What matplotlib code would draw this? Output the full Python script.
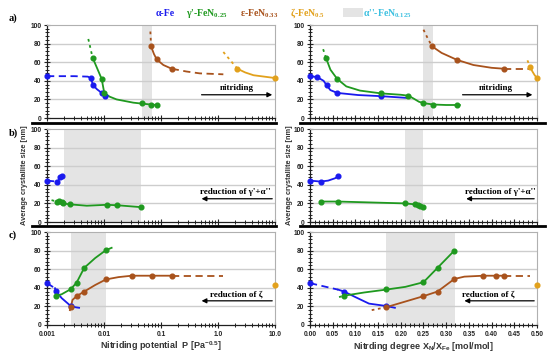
import matplotlib
matplotlib.use("Agg")
import matplotlib.pyplot as plt
from matplotlib.lines import Line2D
from matplotlib.patches import Rectangle
from matplotlib.ticker import MultipleLocator, LogLocator, FixedLocator, NullFormatter

plt.rcParams['font.family'] = ['Liberation Sans Narrow', 'Liberation Sans', 'DejaVu Sans']
plt.rcParams['mathtext.default'] = 'regular'

BLUE = '#1a1aee'
GREEN = '#1f991f'
BROWN = '#a8521c'
GOLD = '#e2a11c'
BAND = '#e4e4e4'

# ---- panel a, nitriding potential (log x) ----
a_l_fe_pts = ([0.001, 0.0058, 0.0065, 0.0091, 0.0102], [45, 43, 35, 27, 24])
a_l_fe_line = ([0.0058, 0.0065, 0.0075, 0.0091, 0.0102, 0.011], [43, 35, 31, 27, 24, 23.5])
a_l_fe_dash = ([0.001, 0.003, 0.0052, 0.0058], [45, 45, 44.5, 43])
a_l_g_dot = ([0.0053, 0.0063], [85, 65])
a_l_g_pts = ([0.0063, 0.0091, 0.0101, 0.046, 0.067, 0.084], [65, 42, 27, 16, 14.5, 14])
a_l_g_line = ([0.0063, 0.0091, 0.0101, 0.0125, 0.0166, 0.0327, 0.046, 0.067, 0.084],
              [65, 42, 27, 23, 20, 16.5, 15.5, 14.5, 14])
a_l_e_dot = ([0.065, 0.067], [93, 77])
a_l_e_pts = ([0.067, 0.084, 0.154], [77, 63, 53])
a_l_e_line = ([0.067, 0.075, 0.084, 0.11, 0.154], [77, 69, 63, 57, 53])
a_l_e_dash = ([0.154, 0.28, 0.48, 1.24], [53, 50, 48, 47])
a_l_z_dot = ([1.24, 2.19], [71, 53])
a_l_z_pts = ([2.19, 10.0], [53, 43])
a_l_z_line = ([2.19, 3.0, 4.2, 10.0], [53, 49, 46, 43])
a_l_band = (0.046, 0.069)

# ---- panel a, nitriding degree ----
a_r_fe_pts = ([0.0, 0.016, 0.037, 0.06, 0.156], [45, 44, 35, 27, 23.5])
a_r_fe_line = ([0.0, 0.016, 0.03, 0.037, 0.045, 0.06, 0.106, 0.156, 0.217],
               [45, 44, 40, 35, 30, 27, 24.7, 23.5, 21.5])
a_r_g_dot = ([0.029, 0.035], [74, 65])
a_r_g_pts = ([0.035, 0.06, 0.156, 0.217, 0.25, 0.272, 0.324], [65, 42, 26.5, 24, 16, 14.5, 14])
a_r_g_line = ([0.035, 0.045, 0.06, 0.08, 0.11, 0.156, 0.2, 0.217, 0.228, 0.24, 0.25, 0.272, 0.3, 0.324, 0.33],
              [65, 52, 42, 34, 29.5, 26.5, 25, 24, 21, 17.5, 16, 14.5, 14, 14, 14])
a_r_e_dot = ([0.25, 0.26, 0.269], [95, 85, 77])
a_r_e_pts = ([0.269, 0.324, 0.427], [77, 62.5, 53])
a_r_e_line = ([0.269, 0.29, 0.324, 0.36, 0.4, 0.427], [77, 70, 62.5, 57, 54, 53])
a_r_e_dash = ([0.427, 0.488], [53, 53])
a_r_z_dot = ([0.479, 0.485], [62, 55])
a_r_z_pts = ([0.485, 0.5], [55, 43])
a_r_z_line = ([0.485, 0.49, 0.495, 0.5], [55, 50, 46, 43])
a_r_band = (0.248, 0.272)

# ---- panel b ----
b_l_fe_pts = ([0.001, 0.00148, 0.0017, 0.0018], [44.5, 43.5, 48, 49.5])
b_l_fe_dash = ([0.001, 0.00148], [44.5, 43.5])
b_l_fe_line = ([0.00148, 0.0016, 0.0017, 0.0018, 0.0019], [43.5, 45, 48, 49.5, 50.5])
b_l_g_dot = ([0.0012, 0.00148], [23.5, 22])
b_l_g_pts = ([0.00148, 0.00164, 0.0018, 0.0019, 0.0025, 0.0111, 0.0171, 0.044],
             [22, 22.5, 21.5, 20, 19, 18.5, 18, 16])
b_l_g_line = ([0.00148, 0.00164, 0.0018, 0.0019, 0.0025, 0.005, 0.0111, 0.0171, 0.044],
              [22, 22.5, 21.5, 20, 19, 17.5, 18.5, 18, 16])
b_l_g_dot2 = ([0.044, 0.056], [16, 15.5])
b_l_band = (0.002, 0.044)

b_r_fe_pts = ([0.0, 0.0235, 0.062], [44.5, 43.5, 49])
b_r_fe_line = ([0.0, 0.0235, 0.04, 0.055, 0.062], [44.5, 43.5, 44.5, 47, 49])
b_r_g_pts = ([0.0235, 0.062, 0.209, 0.231, 0.237, 0.243, 0.25], [22, 22, 20, 19, 18, 17, 16])
b_r_g_line = ([0.0235, 0.062, 0.209, 0.231, 0.237, 0.243, 0.25], [22, 22, 20, 19, 18, 17, 16])
b_r_band = (0.209, 0.248)

# ---- panel c ----
c_l_fe_pts = ([0.001, 0.00144, 0.0026], [45, 36.5, 20.5])
c_l_fe_dash = ([0.001, 0.00138], [45, 39.5])
c_l_fe_line = ([0.00138, 0.00144, 0.0018, 0.0026, 0.0032, 0.00365], [39.5, 36.5, 29, 20.5, 19, 18.5])
c_l_g_dot = ([0.00133, 0.00144], [31, 31.5])
c_l_g_pts = ([0.00144, 0.0026, 0.0033, 0.0045, 0.0108], [31.5, 38.5, 45.5, 61.5, 80.5])
c_l_g_line = ([0.00144, 0.0018, 0.0026, 0.0033, 0.0045, 0.007, 0.0108, 0.0136],
              [31.5, 33, 38.5, 45.5, 61.5, 72, 80.5, 83])
c_l_e_dot = ([0.0025, 0.0026], [15, 19])
c_l_e_pts = ([0.0026, 0.0033, 0.0045, 0.0108, 0.0306, 0.070, 0.158], [19, 31, 36, 49, 53, 53, 53])
c_l_e_line = ([0.0026, 0.0028, 0.0033, 0.0045, 0.007, 0.0108, 0.018, 0.0306, 0.07, 0.158],
              [19, 27, 31, 36, 43, 49, 51.5, 53, 53, 53])
c_l_e_dash = ([0.158, 1.24], [53, 53])
c_l_z_pts = ([10.0], [43.5])
c_l_band = (0.0026, 0.011)

c_r_fe_pts = ([0.0, 0.075, 0.167], [45, 36, 20.5])
c_r_fe_dash = ([0.0, 0.062], [45, 38])
c_r_fe_line = ([0.062, 0.075, 0.1, 0.13, 0.167, 0.187], [38, 36, 30, 23, 20.5, 18.5])
c_r_g_dot = ([0.064, 0.075], [30, 31.5])
c_r_g_pts = ([0.075, 0.167, 0.25, 0.281, 0.318], [31.5, 38.5, 46, 61.5, 80])
c_r_g_line = ([0.075, 0.12, 0.167, 0.21, 0.25, 0.281, 0.318], [31.5, 35, 38, 41, 46, 61.5, 80])
c_r_e_dot = ([0.136, 0.167], [16, 19])
c_r_e_pts = ([0.167, 0.25, 0.281, 0.318, 0.382, 0.41, 0.427], [19, 31, 36, 49.5, 53, 53, 53])
c_r_e_line = ([0.167, 0.25, 0.281, 0.318, 0.34, 0.382, 0.41, 0.427], [19, 31, 36, 49.5, 52, 53, 53, 53])
c_r_e_dash = ([0.427, 0.485], [53, 53])
c_r_z_pts = ([0.5], [43.5])
c_r_band = (0.167, 0.319)

log_ticks = [0.001, 0.01, 0.1, 1.0, 10.0]
log_labels = ['0.001', '0.01', '0.1', '1.0', '10.0']
lin_ticks = [0.0, 0.05, 0.1, 0.15, 0.2, 0.25, 0.3, 0.35, 0.4, 0.45, 0.5]
lin_labels = ['0.00', '0.05', '0.10', '0.15', '0.20', '0.25', '0.30', '0.35', '0.40', '0.45', '0.50']

serif = ['Liberation Serif', 'DejaVu Serif']


def draw(ax, color, pts=None, line=None, dash=None, dot=None, dot2=None):
    if line:
        ax.plot(line[0], line[1], color=color, lw=1.3, zorder=3, clip_on=False)
    if dash:
        ax.plot(dash[0], dash[1], color=color, lw=1.3, ls=(0, (4, 2.5)), zorder=3, clip_on=False)
    for d in (dot, dot2):
        if d:
            ax.plot(d[0], d[1], color=color, lw=1.3, ls=(0, (1.5, 2)), zorder=3, clip_on=False)
    if pts:
        ax.plot(pts[0], pts[1], 'o', color=color, ms=3.4, zorder=4, clip_on=False)


def setup(ax, logx, band, labels):
    ax.axvspan(band[0], band[1], color=BAND, lw=0, zorder=0)
    ax.set_ylim(0, 100)
    ax.yaxis.set_major_locator(MultipleLocator(20))
    ax.yaxis.set_minor_locator(MultipleLocator(4))
    for yv in (20, 40, 60, 80):
        ax.axhline(yv, color='#cdcdcd', lw=1.0, zorder=1)
    if logx:
        ax.set_xscale('log')
        ax.set_xlim(0.001, 10.0)
        ax.xaxis.set_major_locator(FixedLocator(log_ticks))
        ax.xaxis.set_minor_locator(LogLocator(base=10, subs=range(2, 10)))
        ax.xaxis.set_minor_formatter(NullFormatter())
        ax.set_xticklabels(log_labels if labels else [''] * 5)
    else:
        ax.set_xlim(0.0, 0.5)
        ax.set_xticks(lin_ticks)
        ax.xaxis.set_minor_locator(MultipleLocator(0.01))
        ax.set_xticklabels(lin_labels if labels else [''] * 11)
    ax.tick_params(axis='both', which='major', direction='inout', length=4, width=0.8,
                   labelsize=4.8, pad=2, colors='#222222')
    ax.tick_params(axis='both', which='minor', direction='inout', length=2.2, width=0.6)
    for t in ax.get_xticklabels() + ax.get_yticklabels():
        t.set_fontweight('bold')
    for s in ('top', 'right'):
        ax.spines[s].set_color('#b0b0b0')
        ax.spines[s].set_linewidth(0.8)
    for s in ('left', 'bottom'):
        ax.spines[s].set_color('#202020')
        ax.spines[s].set_linewidth(0.9)


def arrow(ax, head, tail, y, text, tx):
    ax.annotate('', xy=(head, y), xytext=(tail, y),
                arrowprops=dict(arrowstyle='-|>', color='k', lw=0.9, mutation_scale=7), zorder=5)
    ax.text(tx, y + 2.5, text, ha='center', va='bottom', fontsize=6.5, fontweight='bold',
            family=serif, zorder=5)


fig = plt.figure(figsize=(5.5, 3.56), dpi=100)
lx, lw_ = 0.0855, 0.4145
rx, rw = 0.5636, 0.4127
rows = [0.6685, 0.3764, 0.0871]
h = 0.2612

axes = {}
for i, key in enumerate('abc'):
    axes[key + 'l'] = fig.add_axes([lx, rows[i], lw_, h])
    axes[key + 'r'] = fig.add_axes([rx, rows[i], rw, h])

# panel a
ax = axes['al']
setup(ax, True, a_l_band, False)
draw(ax, BLUE, a_l_fe_pts, a_l_fe_line, a_l_fe_dash)
draw(ax, GREEN, a_l_g_pts, a_l_g_line, dot=a_l_g_dot)
draw(ax, BROWN, a_l_e_pts, a_l_e_line, a_l_e_dash, a_l_e_dot)
draw(ax, GOLD, a_l_z_pts, a_l_z_line, dot=a_l_z_dot)
arrow(ax, 10.0, 0.46, 25, 'nitriding', 2.15)

ax = axes['ar']
setup(ax, False, a_r_band, False)
draw(ax, BLUE, a_r_fe_pts, a_r_fe_line)
draw(ax, GREEN, a_r_g_pts, a_r_g_line, dot=a_r_g_dot)
draw(ax, BROWN, a_r_e_pts, a_r_e_line, a_r_e_dash, a_r_e_dot)
draw(ax, GOLD, a_r_z_pts, a_r_z_line, dot=a_r_z_dot)
arrow(ax, 0.496, 0.33, 25, 'nitriding', 0.41)

# panel b
ax = axes['bl']
setup(ax, True, b_l_band, False)
draw(ax, BLUE, b_l_fe_pts, b_l_fe_line, b_l_fe_dash)
draw(ax, GREEN, b_l_g_pts, b_l_g_line, dot=b_l_g_dot, dot2=b_l_g_dot2)
arrow(ax, 0.46, 10.0, 25, "reduction of γ'+α''", 2.0)

ax = axes['br']
setup(ax, False, b_r_band, False)
draw(ax, BLUE, b_r_fe_pts, b_r_fe_line)
draw(ax, GREEN, b_r_g_pts, b_r_g_line)
arrow(ax, 0.338, 0.5, 25, "reduction of γ'+α''", 0.42)

# panel c
ax = axes['cl']
setup(ax, True, c_l_band, True)
draw(ax, BLUE, c_l_fe_pts, c_l_fe_line, c_l_fe_dash)
draw(ax, GREEN, c_l_g_pts, c_l_g_line, dot=c_l_g_dot)
draw(ax, BROWN, c_l_e_pts, c_l_e_line, c_l_e_dash, c_l_e_dot)
draw(ax, GOLD, c_l_z_pts)
arrow(ax, 0.46, 10.0, 26, 'reduction of ζ', 2.1)
ax.set_xlabel('Nitriding potential  P [Pa$^{-0.5}$]', fontsize=6.5, labelpad=1.5, fontweight='bold',
              color='#333333')

ax = axes['cr']
setup(ax, False, c_r_band, True)
draw(ax, BLUE, c_r_fe_pts, c_r_fe_line, c_r_fe_dash)
draw(ax, GREEN, c_r_g_pts, c_r_g_line, dot=c_r_g_dot)
draw(ax, BROWN, c_r_e_pts, c_r_e_line, c_r_e_dash, c_r_e_dot)
draw(ax, GOLD, c_r_z_pts)
arrow(ax, 0.334, 0.5, 26, 'reduction of ζ', 0.392)
ax.set_xlabel('Nitrding degree X$_{N}$/X$_{Fe}$ [mol/mol]', fontsize=6.5, labelpad=1.5, fontweight='bold',
              color='#333333')

# y labels
fig.text(0.045, 0.508, 'Average crystallite size [nm]', rotation=90, ha='center', va='center',
         fontsize=5.3, fontweight='bold', color='#333333')
fig.text(0.526, 0.508, 'Average crystallite size [nm]', rotation=90, ha='center', va='center',
         fontsize=5.3, fontweight='bold', color='#333333')

# panel letters
for lbl, yy in (('a)', 0.948), ('b)', 0.626), ('c)', 0.34)):
    fig.text(0.016, yy, lbl, fontsize=7.5, fontweight='bold', family=serif, ha='left', va='center')

# thick separators
for yy in (0.6545, 0.365):
    fig.add_artist(Line2D([0.058, 0.502], [yy, yy], color='k', lw=2.0))
    fig.add_artist(Line2D([0.545, 0.991], [yy, yy], color='k', lw=2.0))

# legend row
leg_y = 0.962
fig.text(0.300, leg_y, 'α-Fe', color=BLUE, fontsize=7, fontweight='bold', family=serif, ha='center', va='center')
fig.text(0.376, leg_y, "γ'-FeN$_{0.25}$", color=GREEN, fontsize=7, fontweight='bold', family=serif, ha='center', va='center')
fig.text(0.472, leg_y, 'ε-FeN$_{0.33}$', color=BROWN, fontsize=7, fontweight='bold', family=serif, ha='center', va='center')
fig.text(0.559, leg_y, 'ζ-FeN$_{0.5}$', color=GOLD, fontsize=7, fontweight='bold', family=serif, ha='center', va='center')
fig.add_artist(Rectangle((0.624, 0.952), 0.036, 0.026, transform=fig.transFigure, color=BAND, lw=0))
fig.text(0.705, leg_y, "α''-FeN$_{0.125}$", color='#3cc0e0', fontsize=7, fontweight='bold', family=serif, ha='center', va='center')

fig.savefig('out.png', dpi=100)
